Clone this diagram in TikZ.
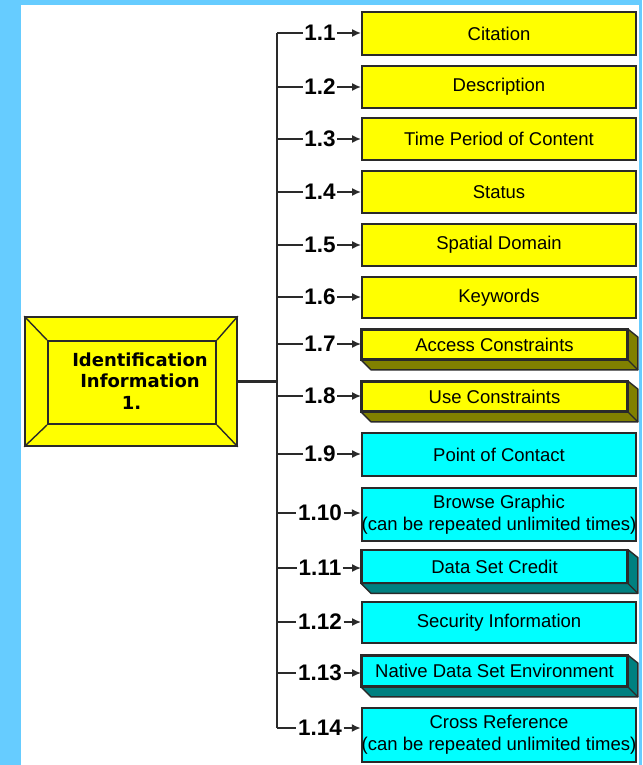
\documentclass[tikz,border=0pt]{standalone}
\usepackage{fontspec}
\setmainfont{Liberation Sans}
\newfontfamily\vfont{DejaVu Sans}
\usetikzlibrary{arrows.meta}
\definecolor{bgblue}{HTML}{66CCFF}
\definecolor{yel}{HTML}{FFFF00}
\definecolor{yelsh}{HTML}{808000}
\definecolor{cya}{HTML}{00FFFF}
\definecolor{cyash}{HTML}{008080}
\definecolor{edge}{HTML}{2A2A2A}
\tikzset{
  flatbox/.style={draw=edge, line width=1.8pt, minimum width=274pt, inner sep=0pt,
    font=\fontsize{18.5}{22}\selectfont, align=center},
  frontbox/.style={draw=edge, line width=1.8pt, minimum width=265pt, inner sep=0pt,
    font=\fontsize{18.5}{22}\selectfont, align=center},
  lab/.style={inner sep=1.5pt, font=\fontsize{22.5}{24}\selectfont\bfseries},
  conn/.style={draw=edge, line width=2.2pt},
  arr/.style={draw=edge, line width=2.2pt, -{Latex[length=9pt,width=8pt]}},
  sidepart/.style={draw=edge, line width=1.4pt, line join=round},
}
\newcommand\myextrude[2]{%
  \filldraw[sidepart, fill=#2] (#1.north east) -- ++(10,8) -- ([shift={(10,10)}]#1.south east)
    -- ([shift={(10,10)}]#1.south west) -- (#1.south west) -- (#1.south east) -- cycle;
  \draw[sidepart] (#1.south east) -- ++(10,10);
  \draw[draw=edge, line width=1.8pt] (#1.south west) rectangle (#1.north east);}
\begin{document}
\begin{tikzpicture}[x=1pt,y=-1pt]
\useasboundingbox (0,0) rectangle (642,765);
\fill[bgblue] (0,0) rectangle (642,765);
\fill[white] (21,5) rectangle (639,765);

% main box
\node[draw=edge, fill=yel, line width=1.6pt, minimum width=212pt, minimum height=129pt] (main) at (131,381.5) {};
\node[draw=edge, line width=2pt, minimum width=168pt, minimum height=83pt] (inner) at (132,382.5) {};
\draw[edge, line width=1.4pt] (main.north west) -- (inner.north west);
\draw[edge, line width=1.4pt] (main.north east) -- (inner.north east);
\draw[edge, line width=1.4pt] (main.south west) -- (inner.south west);
\draw[edge, line width=1.4pt] (main.south east) -- (inner.south east);
\node[align=center, inner sep=0pt, font=\vfont\fontsize{18}{21.5}\selectfont\bfseries] (mtext) at (140,381) {Identification\\Information\\1.\hspace*{17pt}};

% boxes
\node[flatbox, fill=yel, minimum height=43pt] (b1) at (499,33.5) {Citation};
\node[flatbox, fill=yel, minimum height=42pt] (b2) at (499,87) {Description};
\node[flatbox, fill=yel, minimum height=42pt] (b3) at (499,139) {Time Period of Content};
\node[flatbox, fill=yel, minimum height=42pt] (b4) at (499,192) {Status};
\node[flatbox, fill=yel, minimum height=42pt] (b5) at (499,245) {Spatial Domain};
\node[flatbox, fill=yel, minimum height=41pt] (b6) at (499,297.5) {Keywords};
\node[frontbox, fill=yel, minimum height=29pt] (b7) at (494.5,344.5) {Access Constraints};
\myextrude{b7}{yelsh}
\node[frontbox, fill=yel, minimum height=29pt] (b8) at (494.5,396.5) {Use Constraints};
\myextrude{b8}{yelsh}
\node[flatbox, fill=cya, minimum height=43pt] (b9) at (499,454.5) {Point of Contact};
\node[flatbox, fill=cya, minimum height=53pt] (b10) at (499,514.5) {Browse Graphic\\(can be repeated unlimited times)};
\node[frontbox, fill=cya, minimum height=32pt] (b11) at (494.5,566.5) {Data Set Credit};
\myextrude{b11}{cyash}
\node[flatbox, fill=cya, minimum height=41pt] (b12) at (499,622.5) {Security Information};
\node[frontbox, fill=cya, minimum height=30pt] (b13) at (494.5,671) {Native Data Set Environment};
\myextrude{b13}{cyash}
\node[flatbox, fill=cya, minimum height=54pt] (b14) at (499,735) {Cross Reference\\(can be repeated unlimited times)};

% labels
\node[lab] (l1) at (320,33) {1.1};
\node[lab] (l2) at (320,87) {1.2};
\node[lab] (l3) at (320,139) {1.3};
\node[lab] (l4) at (320,192) {1.4};
\node[lab] (l5) at (320,245) {1.5};
\node[lab] (l6) at (320,297) {1.6};
\node[lab] (l7) at (320,344) {1.7};
\node[lab] (l8) at (320,396) {1.8};
\node[lab] (l9) at (320,454) {1.9};
\node[lab] (l10) at (320,513) {1.10};
\node[lab] (l11) at (320,568) {1.11};
\node[lab] (l12) at (320,622) {1.12};
\node[lab] (l13) at (320,673) {1.13};
\node[lab] (l14) at (320,728) {1.14};

% trunk
\coordinate (tt) at (277,33);
\coordinate (tb) at (277,728);
\draw[conn] (tt) -- (tb);
\draw[conn] (main.east) -- (main.east -| tt);
\foreach \i in {1,...,14} {
  \draw[conn] (l\i.west -| tt) -- (l\i.west);
  \draw[arr] (l\i.east) -- (l\i.east -| b\i.west);
}
\end{tikzpicture}
\end{document}
